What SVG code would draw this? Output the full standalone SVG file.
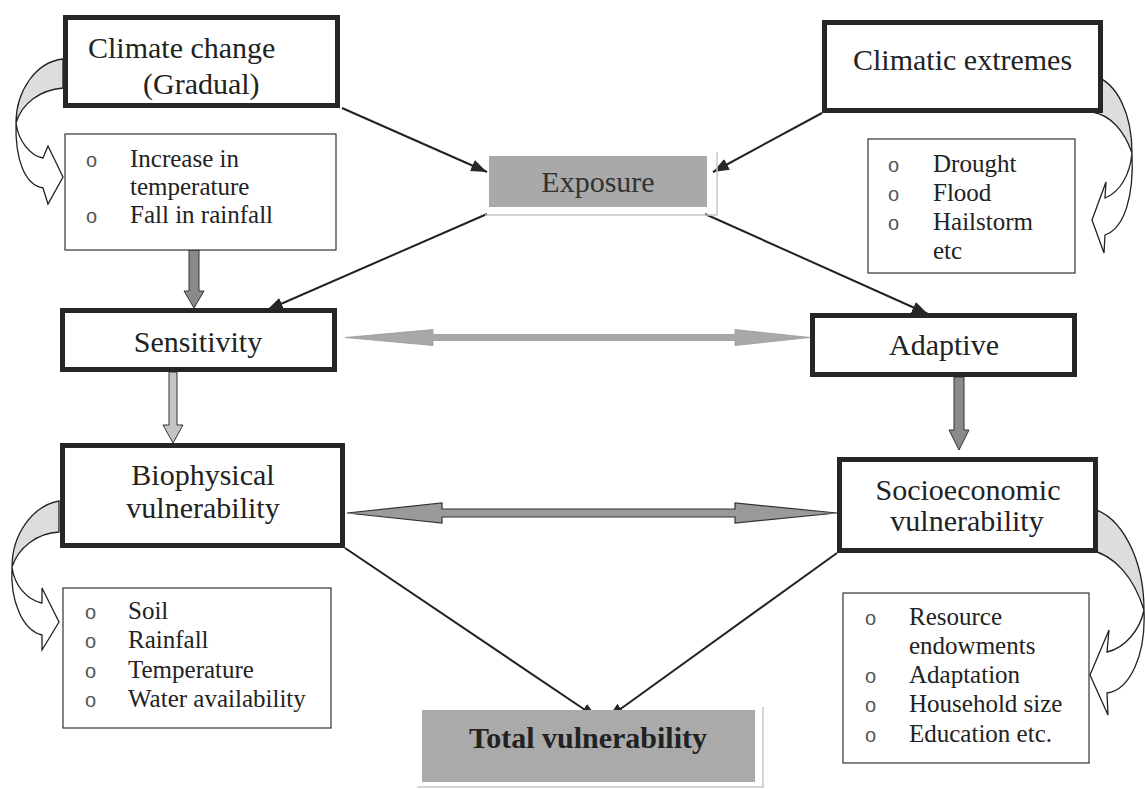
<svg xmlns="http://www.w3.org/2000/svg" width="1145" height="789" viewBox="0 0 1145 789">
<style>
.thick{fill:#fff;stroke:#262626;stroke-width:5}
.thin{fill:#fff;stroke:#333;stroke-width:1.2}
.t{font-family:"Liberation Serif","Times New Roman",serif;font-size:30px;fill:#222}
.l{font-family:"Liberation Serif","Times New Roman",serif;font-size:25px;fill:#222}
.b{font-family:"Liberation Sans",Arial,sans-serif;font-size:20px;fill:#555}
.line{stroke:#222;stroke-width:2;fill:none;marker-end:url(#ah)}
.cb{fill:#ddd;stroke:#222;stroke-width:1.3}
.cf{fill:#fff;stroke:#222;stroke-width:1.3}
.frame{fill:none;stroke:#c8c8c8;stroke-width:1.5}
</style>
<defs>
<marker id="ah" markerUnits="userSpaceOnUse" markerWidth="18" markerHeight="12" refX="16" refY="6" orient="auto">
<path d="M0,0 L16,6 L0,12 Z" fill="#262626"/>
</marker>
</defs>
<rect width="1145" height="789" fill="#fff"/>

<g id="connectors">
<line class="line" x1="342" y1="108" x2="487" y2="172"/>
<line class="line" x1="822" y1="113" x2="713" y2="172"/>
<line class="line" x1="487" y1="214" x2="267" y2="310"/>
<line class="line" x1="705" y1="214" x2="928" y2="314"/>
<line class="line" x1="345" y1="548" x2="597" y2="718"/>
<line class="line" x1="837" y1="553" x2="608" y2="718"/>
<polygon points="189,250 199,250 199,291 204,291 194,308 184,291 189,291" fill="#8a8a8a" stroke="#333" stroke-width="1"/>
<polygon points="169,372 177,372 177,425 183,425 173,443 163,425 169,425" fill="#c4c4c4" stroke="#333" stroke-width="1"/>
<polygon points="954,377 964,377 964,430 969,430 959,450 949,430 954,430" fill="#8a8a8a" stroke="#333" stroke-width="1"/>
<polygon points="345,337.5 433,329.5 433,334.5 735,334.5 735,329.5 810,337.5 735,345.5 735,340.5 433,340.5 433,345.5" fill="#a8a8a8" stroke="#999" stroke-width="0.8"/>
<polygon points="347,513 442,503 442,509 735,509 735,503 837,513 735,523 735,517 442,517 442,523" fill="#9a9a9a" stroke="#333" stroke-width="1.2"/>
</g>

<g id="curved-climate">
<path class="cb" d="M63,59 C35,62 16,92 16,123 C22,103 40,90 63,88 Z"/>
<path class="cf" d="M16,123 C18,140 30,156 43,158 L48,146 L63,177 L48,204 L43,188 C25,185 15,160 16,123 Z"/>
</g>
<g id="curved-extremes">
<path class="cb" d="M1092,75 C1118,82 1132,115 1132,153 C1124,130 1110,115 1092,112 Z"/>
<path class="cf" d="M1132,153 C1130,175 1120,192 1105,198 L1106,182 L1092,220 L1104,253 L1105,235 C1125,228 1134,195 1132,153 Z"/>
</g>
<g id="curved-bio">
<path class="cb" d="M59,501 C32,506 12,535 12,567 C18,548 37,533 59,532 Z"/>
<path class="cf" d="M12,567 C14,585 27,600 42,603 L42,588 L59,622 L42,650 L42,635 C22,630 10,600 12,567 Z"/>
</g>
<g id="curved-socio">
<path class="cb" d="M1090,508 C1122,515 1144,560 1144,610 C1134,578 1115,555 1090,550 Z"/>
<path class="cf" d="M1144,610 C1140,630 1125,648 1107,652 L1109,630 L1090,675 L1108,715 L1107,693 C1130,690 1146,655 1144,610 Z"/>
</g>

<g id="climate-change">
<rect class="thick" x="65.5" y="17.5" width="272" height="88"/>
<text class="t" x="88" y="58">Climate change</text>
<text class="t" x="143" y="94">(Gradual)</text>
</g>
<g id="climatic-extremes">
<rect class="thick" x="824.5" y="22.5" width="276" height="88"/>
<text class="t" x="853" y="70">Climatic extremes</text>
</g>
<g id="increase-list">
<rect class="thin" x="65" y="134" width="271" height="116"/>
<text class="b" x="86" y="167">o</text>
<text class="l" x="130" y="167">Increase in</text>
<text class="l" x="130" y="195">temperature</text>
<text class="b" x="86" y="223">o</text>
<text class="l" x="130" y="223">Fall in rainfall</text>
</g>
<g id="extremes-list">
<rect class="thin" x="868" y="139" width="207" height="134"/>
<text class="b" x="888" y="172">o</text>
<text class="l" x="933" y="172">Drought</text>
<text class="b" x="888" y="201">o</text>
<text class="l" x="933" y="201">Flood</text>
<text class="b" x="888" y="230">o</text>
<text class="l" x="933" y="230">Hailstorm</text>
<text class="l" x="933" y="259">etc</text>
</g>
<g id="exposure">
<polyline class="frame" points="485,215 717,215 717,152"/>
<rect x="489" y="156" width="218" height="51" fill="#a9a9a9"/>
<text class="t" x="598" y="192" text-anchor="middle" style="fill:#333">Exposure</text>
</g>
<g id="sensitivity">
<rect class="thick" x="62.5" y="310.5" width="272" height="59"/>
<text class="t" x="198" y="352" text-anchor="middle">Sensitivity</text>
</g>
<g id="adaptive">
<rect class="thick" x="812.5" y="315.5" width="262" height="59"/>
<text class="t" x="944" y="355" text-anchor="middle">Adaptive</text>
</g>
<g id="biophysical">
<rect class="thick" x="62.5" y="445.5" width="280" height="100"/>
<text class="t" x="203" y="485" text-anchor="middle">Biophysical</text>
<text class="t" x="203" y="518" text-anchor="middle">vulnerability</text>
</g>
<g id="socioeconomic">
<rect class="thick" x="839.5" y="459.5" width="256" height="91"/>
<text class="t" x="968" y="500" text-anchor="middle">Socioeconomic</text>
<text class="t" x="967" y="531" text-anchor="middle">vulnerability</text>
</g>
<g id="bio-list">
<rect class="thin" x="63" y="588" width="268" height="140"/>
<text class="b" x="85" y="619">o</text>
<text class="l" x="128" y="619">Soil</text>
<text class="b" x="85" y="648">o</text>
<text class="l" x="128" y="648">Rainfall</text>
<text class="b" x="85" y="678">o</text>
<text class="l" x="128" y="678">Temperature</text>
<text class="b" x="85" y="707">o</text>
<text class="l" x="128" y="707">Water availability</text>
</g>
<g id="socio-list">
<rect class="thin" x="843" y="593" width="246" height="170"/>
<text class="b" x="865" y="625">o</text>
<text class="l" x="909" y="625">Resource</text>
<text class="l" x="909" y="654">endowments</text>
<text class="b" x="865" y="683">o</text>
<text class="l" x="909" y="683">Adaptation</text>
<text class="b" x="865" y="712">o</text>
<text class="l" x="909" y="712">Household size</text>
<text class="b" x="865" y="742">o</text>
<text class="l" x="909" y="742">Education etc.</text>
</g>
<g id="total">
<polyline class="frame" points="417,787 763,787 763,707"/>
<rect x="422" y="710" width="333" height="72" fill="#aaa"/>
<text class="t" x="588" y="748" text-anchor="middle" font-weight="bold">Total vulnerability</text>
</g>
</svg>
